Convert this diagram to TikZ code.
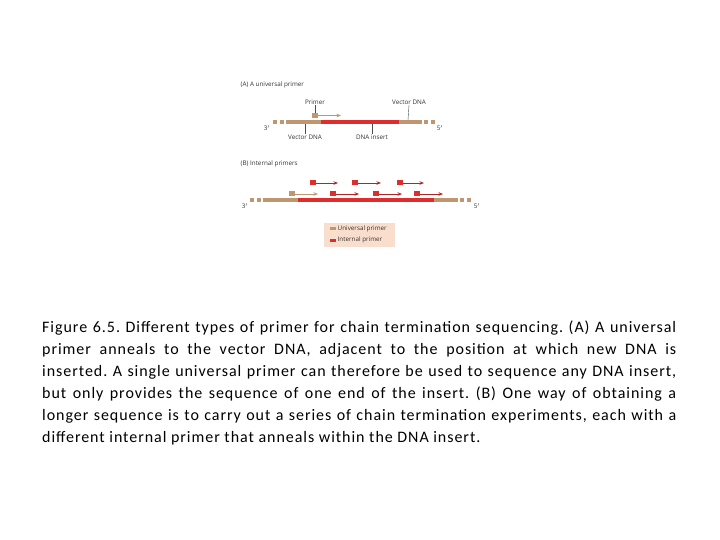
\documentclass[tikz,border=0pt]{standalone}
\usepackage{fontspec}
\setmainfont{Carlito}
\newfontfamily\capfont[LetterSpace=6]{Carlito}
\newfontfamily\lab{Open Sans}
\definecolor{tan}{RGB}{190,150,112}
\definecolor{dred}{RGB}{222,45,45}
\definecolor{legfill}{RGB}{250,222,205}
\usetikzlibrary{arrows.meta}
\begin{document}
\begin{tikzpicture}[x=1pt,y=-1pt,
  lbl/.style={font=\lab\fontsize{6.3}{7}\selectfont,inner sep=0.5pt,text=black!80},
  vec/.style={draw=tan,line width=3.5pt},
  ins/.style={draw=dred,line width=3.5pt},
  ubox/.style={fill=tan,minimum width=6pt,minimum height=5pt,inner sep=0pt},
  ibox/.style={fill=dred,minimum width=6pt,minimum height=5pt,inner sep=0pt},
  uarr/.style={draw=tan,line width=0.6pt,-{Stealth[length=4.5pt,width=3.5pt]}},
  iarr/.style={draw=dred!80!black,line width=0.6pt,-{Stealth[length=4.5pt,width=3.5pt]}},
  tick/.style={draw=black!70,line width=0.4pt}]
\useasboundingbox (0,0) rectangle (720,540);
% Panel A
\node[lbl,anchor=west] (tA) at (240,85) {(A) A universal primer};
\draw[vec] (273,122)--(277,122) (280,122)--(284,122) (286,122)--(422,122) (424,122)--(428,122) (431,122)--(435,122);
\draw[ins] (321,122)--(399,122);
\node[lbl] (a3) at (267,128) {3$'$};
\node[lbl] (a5) at (440,128) {5$'$};
\node[ubox] (pA) at (315,115.5) {};
\coordinate (pAe) at (341,115.5);
\draw[uarr] (pA.east)--(pAe);
\node[lbl] (lprim) at (315,102) {Primer};
\draw[tick] (lprim.south)--(pA.north);
\node[lbl] (lvec1) at (409,102) {Vector DNA};
\coordinate (cv1) at (408,120);
\draw[tick] (lvec1.south)--(cv1);
\node[lbl] (lvec2) at (305,137) {Vector DNA};
\coordinate (cv2) at (305,124);
\draw[tick] (cv2)--(lvec2.north);
\node[lbl] (lins) at (372,137) {DNA insert};
\coordinate (ci) at (372,124);
\draw[tick] (ci)--(lins.north);
% Panel B
\node[lbl,anchor=west] (tB) at (240,164) {(B) Internal primers};
\draw[vec] (250,200)--(254,200) (257,200)--(261,200) (263,200)--(458,200) (460,200)--(464,200) (467,200)--(471,200);
\draw[ins] (298,200)--(434,200);
\node[lbl] (b3) at (245,206) {3$'$};
\node[lbl] (b5) at (477,206) {5$'$};
\node[ubox] (u1) at (291.5,194) {};
\coordinate (u1e) at (318,194);
\draw[uarr] (u1.east)--(u1e);
\foreach \n/\x/\y/\e in {i1/333/194/359, i2/375.5/194/402, i3/417/194/443, i4/313/183/338, i5/355/183/381, i6/399.5/183/424}{
  \node[ibox] (\n) at (\x,\y) {};
  \coordinate (\n e) at (\e,\y);
  \draw[iarr] (\n.east)--(\n e);
}
% legend
\node[fill=legfill,minimum width=71pt,minimum height=24pt,inner sep=0pt] (leg) at (359.5,235) {};
\node[ubox,minimum height=3pt] (lu) at (332.5,229) {};
\node[ibox,minimum height=3pt] (li) at (332.5,240) {};
\node[lbl,anchor=west] (lut) at (337,229) {Universal primer};
\node[lbl,anchor=west] (lit) at (337,240) {Internal primer};
% caption
\node[anchor=north west,inner sep=0pt,text width=634pt,font=\capfont\fontsize{16}{22}\selectfont\frenchspacing,align=justify] (cap) at (42,321)
{Figure 6.5. Different types of primer for chain termination sequencing. (A) A universal\linebreak primer anneals to the vector DNA, adjacent to the position at which new DNA is\linebreak inserted. A single universal primer can therefore be used to sequence any DNA insert,\linebreak but only provides the sequence of one end of the insert. (B) One way of obtaining a\linebreak longer sequence is to carry out a series of chain termination experiments, each with a\linebreak different internal primer that anneals within the DNA insert.};
\end{tikzpicture}
\end{document}
